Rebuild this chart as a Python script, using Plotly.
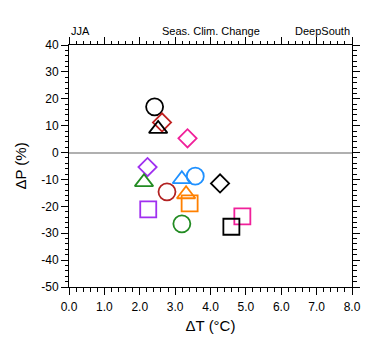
import plotly.graph_objects as go

# Data (dT in degC, dP in %)
models_dT = [2.42, 2.63, 2.52, 3.35, 2.22, 2.12, 3.19, 3.57, 4.27, 2.77, 3.31, 3.41, 2.24, 4.90, 3.19, 4.59]
models_dP = [17.0, 11.2, 8.8, 5.3, -5.4, -11.0, -9.9, -8.8, -11.5, -14.6, -15.5, -18.9, -21.1, -23.7, -26.5, -27.6]
symbols = ["circle-open", "diamond-open", "triangle-up-open", "diamond-open",
           "diamond-open", "triangle-up-open", "triangle-up-open", "circle-open",
           "diamond-open", "circle-open", "triangle-up-open", "square-open",
           "square-open", "square-open", "circle-open", "square-open"]
colors = ["#000000", "#C02020", "#000000", "#F0209A",
          "#A030F0", "#228B22", "#1E90FF", "#1E90FF",
          "#000000", "#B22222", "#FF8000", "#FF8000",
          "#A030F0", "#F0209A", "#228B22", "#000000"]

x_ticks = [0, 1, 2, 3, 4, 5, 6, 7, 8]
x_ticklabels = ["0.0", "1.0", "2.0", "3.0", "4.0", "5.0", "6.0", "7.0", "8.0"]
y_ticks = [40, 30, 20, 10, 0, -10, -20, -30, -40, -50]
y_ticklabels = ["40", "30", "20", "10", "0", "-10", "-20", "-30", "-40", "-50"]

size_map = {"circle-open": 17, "diamond-open": 14, "triangle-up-open": 16, "square-open": 16}

fig = go.Figure()
for xv, yv, s, c in zip(models_dT, models_dP, symbols, colors):
    fig.add_trace(go.Scatter(
        x=[xv], y=[yv], mode="markers",
        marker=dict(symbol=s, size=size_map[s], color=c, line=dict(width=1.8, color=c)),
        showlegend=False, hoverinfo="skip"))

axis_common = dict(
    showgrid=False, showline=True, linecolor="black", linewidth=1,
    mirror="ticks", ticks="outside", ticklen=7, tickwidth=1, tickcolor="black",
    tickfont=dict(family="Liberation Sans, Arial, sans-serif", size=12, color="black"),
)

fig.update_layout(
    width=380, height=355,
    margin=dict(l=58, r=36, t=37, b=76),
    paper_bgcolor="white", plot_bgcolor="white",
    font=dict(family="Liberation Sans, Arial, sans-serif", color="black"),
    xaxis=dict(
        range=[0, 8], tickvals=x_ticks, ticktext=x_ticklabels,
        zeroline=False, ticklabelstandoff=2,
        minor=dict(dtick=0.2, ticks="outside", ticklen=3.5, tickwidth=1, tickcolor="black", showgrid=False),
        title=dict(text="ΔT (°C)", font=dict(size=15), standoff=7),
        **axis_common),
    yaxis=dict(
        range=[-50, 40], tickvals=y_ticks, ticktext=y_ticklabels,
        zeroline=True, zerolinecolor="#B0B0B0", zerolinewidth=1.5,
        minor=dict(dtick=2, ticks="outside", ticklen=3.5, tickwidth=1, tickcolor="black", showgrid=False),
        title=dict(text="ΔP (%)", font=dict(size=15), standoff=11),
        **axis_common),
    annotations=[
        dict(text="JJA", xref="paper", yref="paper", x=0, y=1, xanchor="left", yanchor="bottom",
             yshift=6, showarrow=False, font=dict(size=11)),
        dict(text="Seas. Clim. Change", xref="paper", yref="paper", x=0.5, y=1, xanchor="center",
             yanchor="bottom", yshift=6, showarrow=False, font=dict(size=11)),
        dict(text="DeepSouth", xref="paper", yref="paper", x=1, y=1, xanchor="right", yanchor="bottom",
             yshift=6, showarrow=False, font=dict(size=11)),
    ],
)

fig.write_html("out.html")
